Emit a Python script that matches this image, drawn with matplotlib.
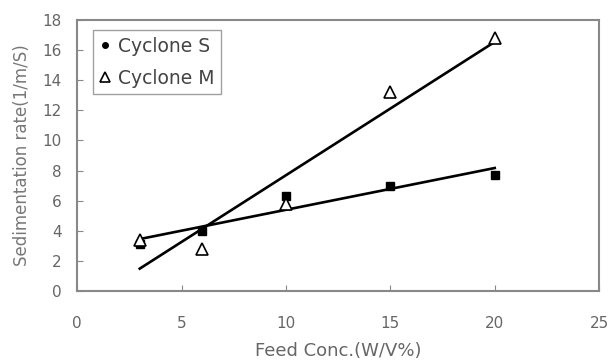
import matplotlib
matplotlib.use('Agg')
import matplotlib.pyplot as plt
import numpy as np

plt.rcParams['font.family'] = ['DejaVu Sans']

# data
feed_conc = [3, 6, 10, 15, 20]
cyclone_s = [3.1, 4.0, 6.3, 7.0, 7.7]
cyclone_m = [3.4, 2.8, 5.8, 13.2, 16.8]

grey = '#666666'

fig = plt.figure(figsize=(6.12, 3.63), dpi=100)
ax = fig.add_axes([0.126, 0.198, 0.853, 0.747])

# linear fits
x = np.array(feed_conc, dtype=float)
for y in (cyclone_s, cyclone_m):
    k, b = np.polyfit(x, y, 1)
    ax.plot([x.min(), x.max()], [k * x.min() + b, k * x.max() + b],
            color='black', lw=1.9)

ax.plot(feed_conc, cyclone_s, 's', color='black', ms=5.5, ls='none',
        label='Cyclone S')
ax.plot(feed_conc, cyclone_m, '^', mfc='white', mec='black', mew=1.2,
        ms=8, ls='none', label='Cyclone M')

ax.set_xlim(0, 25)
ax.set_ylim(0, 18)
ax.set_xticks(range(0, 26, 5))
ax.set_yticks(range(0, 19, 2))
ax.tick_params(direction='in', colors='#888888', labelcolor=grey,
               labelsize=11, length=4)
ax.tick_params(axis='x', pad=18)
ax.tick_params(axis='y', pad=11)
for s in ax.spines.values():
    s.set_color('#888888')
    s.set_linewidth(1.5)

ax.set_xlabel('Feed Conc.(W/V%)', color=grey, fontsize=13, labelpad=8)
ax.set_ylabel('Sedimentation rate(1/m/S)', color='#777777', fontsize=12,
              labelpad=8)

leg = ax.legend(loc='upper left', bbox_to_anchor=(0.031, 0.963), fontsize=13.5,
                fancybox=False, handlelength=0.5, handletextpad=0.45,
                borderpad=0.35, labelspacing=0.7, borderaxespad=0)
leg.get_frame().set_edgecolor('#888888')
leg.get_frame().set_linewidth(1.0)
for t in leg.get_texts():
    t.set_color('#444444')
leg.legend_handles[0].set_marker('o')
leg.legend_handles[0].set_markersize(4)
leg.legend_handles[1].set_markersize(7)

fig.savefig('out.png', dpi=100)
